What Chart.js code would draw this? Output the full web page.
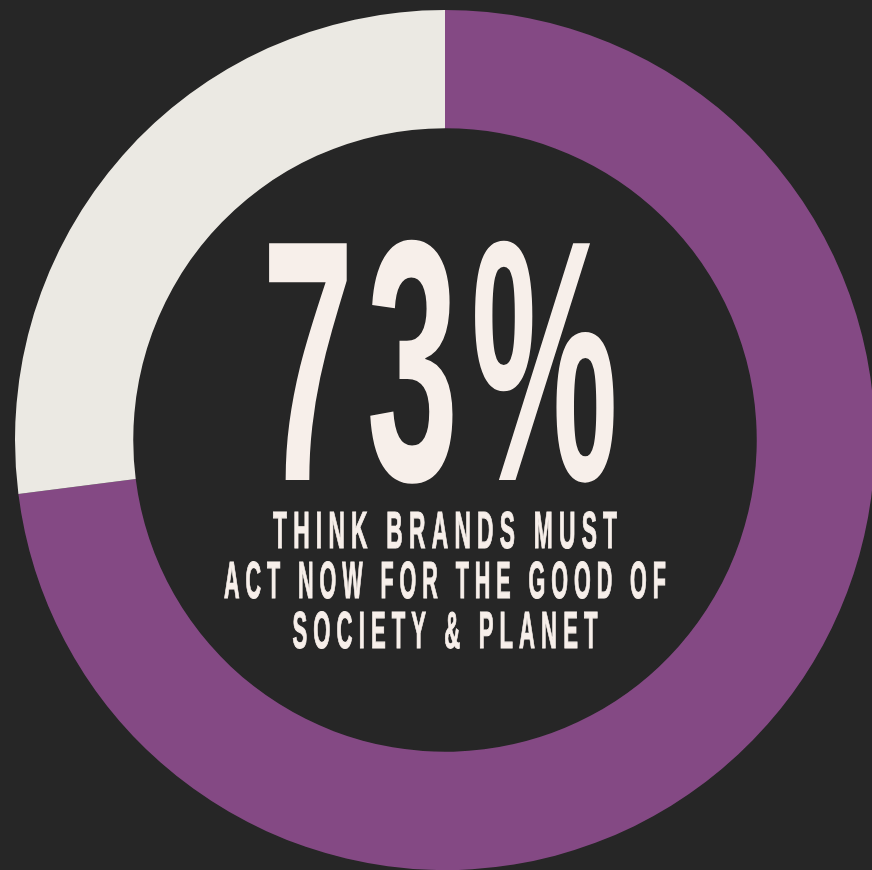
<!DOCTYPE html>
<html>
<head>
<meta charset="utf-8">
<script src="https://cdn.jsdelivr.net/npm/chart.js@4.4.1/dist/chart.umd.min.js"></script>
<style>
  html, body { margin: 0; padding: 0; background: #262626; overflow: hidden; }
  #wrap { position: absolute; left: 0; top: 0; width: 890px; height: 870px; }
</style>
</head>
<body>
<div id="wrap"><canvas id="c"></canvas></div>
<script>
// Survey split
const categories = ['Think brands must act now', 'Do not'];
const values = [73, 27];
const sliceColors = ['#844984', '#EBE9E3'];
const captionLines = ['THINK BRANDS MUST', 'ACT NOW FOR THE GOOD OF', 'SOCIETY & PLANET'];

// Centre text: big percentage plus condensed caption, squeezed horizontally
const centerText = {
  id: 'centerText',
  afterDraw(chart) {
    const ctx = chart.ctx;
    const arc = chart.getDatasetMeta(0).data[0];
    const cx = arc.x, cy = arc.y;
    const ink = '#F7EFEA';

    function fitLine(text, font, spacing, targetW, centerX, baseline, strokeW) {
      ctx.save();
      ctx.font = font;
      ctx.letterSpacing = spacing + 'px';
      const w = ctx.measureText(text).width - spacing;
      const sx = targetW / w;
      ctx.translate(centerX, baseline);
      ctx.scale(sx, 1);
      ctx.textAlign = 'left';
      ctx.textBaseline = 'alphabetic';
      ctx.fillStyle = ink;
      ctx.fillText(text, -w / 2, 0);
      if (strokeW) {
        ctx.strokeStyle = ink;
        ctx.lineWidth = strokeW;
        ctx.lineJoin = 'miter';
        ctx.strokeText(text, -w / 2, 0);
      }
      ctx.restore();
    }

    const pct = values[0] + '%';
    fitLine(pct, 'bold 344px "Liberation Sans"', 26, 356, cx - 5, cy + 40, 0);

    const widths = [344, 442, 305];
    const baselines = [cy + 108, cy + 158, cy + 208];
    captionLines.forEach((t, i) => {
      fitLine(t, 'bold 51px "Liberation Sans"', 14, widths[i], cx, baselines[i], 1.2);
    });
  }
};

new Chart(document.getElementById('c'), {
  type: 'doughnut',
  data: {
    labels: categories,
    datasets: [{
      data: values,
      backgroundColor: sliceColors,
      borderWidth: 0,
      hoverOffset: 0
    }]
  },
  options: {
    responsive: true,
    maintainAspectRatio: false,
    animation: false,
    cutout: '72.5%',
    layout: { padding: { left: 15, right: 15, top: 10, bottom: 0 } },
    plugins: {
      legend: { display: false },
      tooltip: { enabled: false }
    },
    events: []
  },
  plugins: [centerText]
});
</script>
</body>
</html>
